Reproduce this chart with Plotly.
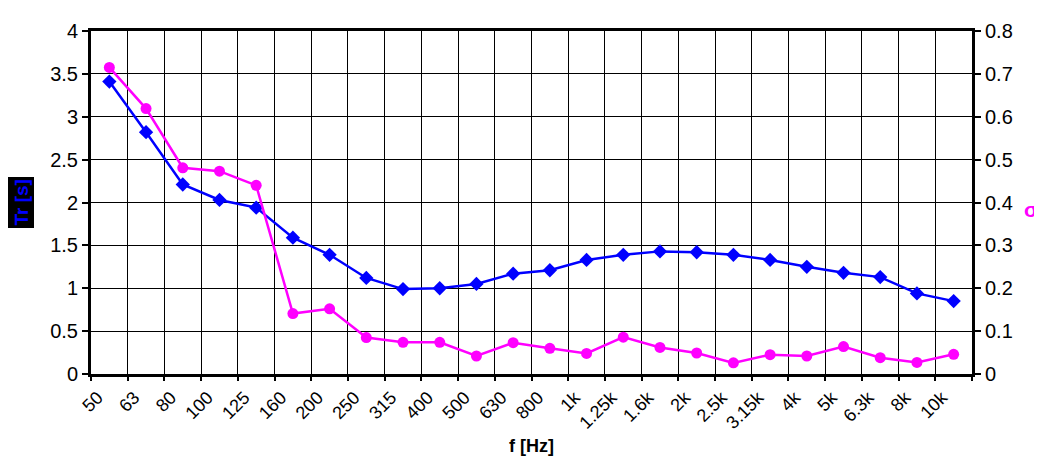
import plotly.graph_objects as go
import numpy as np

freq_labels = ["50", "63", "80", "100", "125", "160", "200", "250", "315", "400",
               "500", "630", "800", "1k", "1.25k", "1.6k", "2k", "2.5k", "3.15k",
               "4k", "5k", "6.3k", "8k", "10k"]
tr_values = [3.41, 2.82, 2.21, 2.03, 1.94, 1.59, 1.39, 1.12, 0.99, 1.00,
             1.05, 1.17, 1.21, 1.33, 1.39, 1.43, 1.42, 1.39, 1.33,
             1.25, 1.18, 1.13, 0.94, 0.85]
sigma_values = [0.715, 0.619, 0.481, 0.473, 0.440, 0.141, 0.152, 0.085, 0.074, 0.074,
                0.042, 0.073, 0.060, 0.048, 0.086, 0.062, 0.049, 0.026, 0.045,
                0.042, 0.064, 0.038, 0.027, 0.046]

idx = np.arange(len(freq_labels))
n = len(freq_labels)
FONT = "Liberation Sans, Arial, sans-serif"

fig = go.Figure()
fig.add_trace(go.Scatter(
    x=idx, y=tr_values, mode="lines+markers", name="Tr",
    line=dict(color="#0000FF", width=2.5),
    marker=dict(symbol="diamond", size=11, color="#0000FF"),
    xaxis="x", yaxis="y", showlegend=False))
fig.add_trace(go.Scatter(
    x=idx, y=sigma_values, mode="lines+markers", name="σ",
    line=dict(color="#FF00FF", width=2.5),
    marker=dict(symbol="circle", size=11, color="#FF00FF"),
    xaxis="x2", yaxis="y2", showlegend=False))

xr = [-0.5, n - 0.5]
fig.update_layout(
    width=1034, height=451,
    margin=dict(l=83, r=70, t=14, b=85),
    paper_bgcolor="white", plot_bgcolor="white",
    font=dict(family=FONT, size=20, color="black"),
    xaxis=dict(
        range=xr, tickmode="array", tickvals=idx - 0.32, ticktext=freq_labels,
        tickangle=-45, ticks="outside", ticklen=3, tickcolor="rgba(0,0,0,0)",
        showgrid=False, zeroline=False, showline=True, linecolor="black",
        linewidth=3, mirror=True, tickfont=dict(size=18)),
    xaxis2=dict(
        range=xr, overlaying="x", side="bottom", tickmode="array",
        tickvals=np.arange(n + 1) - 0.5, showticklabels=False,
        ticks="outside", ticklen=6, tickwidth=2, tickcolor="black",
        showgrid=True, gridcolor="black", gridwidth=1, zeroline=False,
        showline=False),
    yaxis=dict(
        range=[0, 4], dtick=0.5, showgrid=True, gridcolor="black",
        gridwidth=1, zeroline=False, showline=True, linecolor="black",
        linewidth=3, ticks="outside", ticklen=6, tickwidth=2, tickcolor="black",
        tickfont=dict(size=20)),
    yaxis2=dict(
        range=[0, 0.8], dtick=0.1, overlaying="y", side="right", showgrid=False,
        zeroline=False, showline=True, linecolor="black", linewidth=3,
        ticks="outside", ticklen=6, tickwidth=2, tickcolor="black",
        tickfont=dict(size=20)),
)

fig.add_annotation(
    text="<b>Tr [s]</b>", xref="paper", yref="paper",
    x=-(91 - 21) / 881, y=(374 - 198) / 352, textangle=-90,
    showarrow=False, font=dict(family=FONT, size=19, color="#0000FF"),
    bgcolor="black", borderpad=2, xanchor="center", yanchor="middle")
fig.add_annotation(
    text="<b>σ</b>", xref="paper", yref="paper",
    x=(1031 - 91) / 881, y=(374 - 205) / 352,
    showarrow=False, font=dict(family=FONT, size=21, color="#FF00FF"),
    xanchor="center", yanchor="middle")
fig.add_annotation(
    text="<b>f [Hz]</b>", xref="paper", yref="paper",
    x=0.5, y=(374 - 448) / 352,
    showarrow=False, font=dict(family=FONT, size=18, color="black"),
    xanchor="center", yanchor="middle")

fig.write_html("out.html")
